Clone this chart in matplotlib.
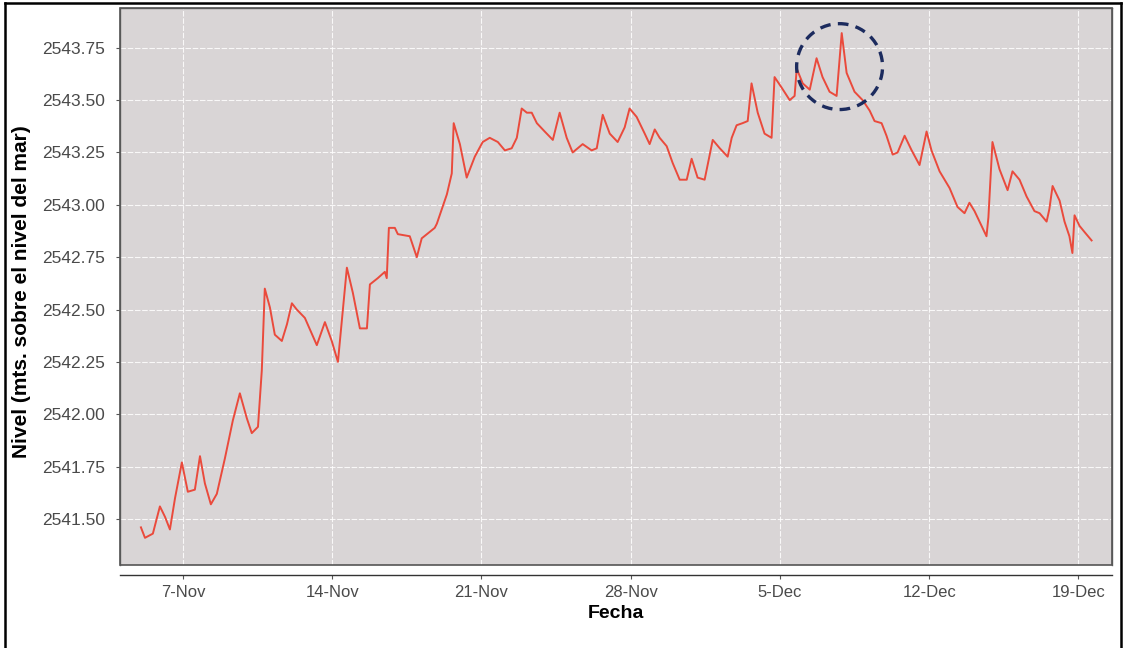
import matplotlib
matplotlib.use("Agg")
from matplotlib import pyplot as plt
import matplotlib.dates as mdates
from matplotlib.patches import Ellipse, Rectangle
from matplotlib.lines import Line2D
import numpy as np
import pandas as pd

# Día contado desde el 1 de noviembre (31 = 1-Dec)
dias = [
    5.03, 5.22, 5.59, 5.92, 6.16, 6.39, 6.63, 6.95, 7.23, 7.56,
    7.80, 8.03, 8.31, 8.59, 8.97, 9.34, 9.67, 10.00, 10.23, 10.52,
    10.70, 10.84, 11.08, 11.31, 11.64, 11.88, 12.11, 12.34, 12.72, 13.28,
    13.66, 13.98, 14.27, 14.69, 14.97, 15.30, 15.63, 15.77, 16.14, 16.47,
    16.56, 16.66, 16.94, 17.08, 17.64, 17.97, 18.20, 18.81, 18.91, 19.38,
    19.61, 19.70, 19.99, 20.31, 20.69, 21.06, 21.39, 21.77, 22.10, 22.42,
    22.66, 22.89, 23.13, 23.36, 23.60, 23.97, 24.35, 24.67, 25.00, 25.28,
    25.75, 26.17, 26.41, 26.69, 27.02, 27.39, 27.72, 27.95, 28.28, 28.66,
    28.89, 29.13, 29.36, 29.69, 29.97, 30.30, 30.63, 30.86, 31.14, 31.47,
    31.85, 32.18, 32.55, 32.74, 32.97, 33.25, 33.49, 33.67, 33.96, 34.28,
    34.61, 34.75, 35.08, 35.46, 35.69, 35.79, 36.07, 36.40, 36.72, 37.00,
    37.33, 37.66, 37.90, 38.13, 38.50, 38.88, 39.21, 39.44, 39.77, 40.00,
    40.29, 40.52, 40.85, 41.18, 41.55, 41.88, 42.11, 42.49, 42.96, 43.33,
    43.66, 43.89, 44.13, 44.46, 44.69, 44.78, 44.97, 45.30, 45.68, 45.91,
    46.24, 46.57, 46.94, 47.18, 47.51, 47.64, 47.79, 48.12, 48.35, 48.58,
    48.72, 48.82, 49.05, 49.29, 49.62,
]

# Nivel (m.s.n.m.)
nivel = [
    2541.46, 2541.41, 2541.43, 2541.56, 2541.51, 2541.45, 2541.60, 2541.77, 2541.63, 2541.64,
    2541.80, 2541.67, 2541.57, 2541.62, 2541.79, 2541.97, 2542.10, 2541.98, 2541.91, 2541.94,
    2542.21, 2542.60, 2542.51, 2542.38, 2542.35, 2542.43, 2542.53, 2542.50, 2542.46, 2542.33,
    2542.44, 2542.35, 2542.25, 2542.70, 2542.58, 2542.41, 2542.41, 2542.62, 2542.65, 2542.68,
    2542.65, 2542.89, 2542.89, 2542.86, 2542.85, 2542.75, 2542.84, 2542.89, 2542.91, 2543.05,
    2543.15, 2543.39, 2543.29, 2543.13, 2543.23, 2543.30, 2543.32, 2543.30, 2543.26, 2543.27,
    2543.32, 2543.46, 2543.44, 2543.44, 2543.39, 2543.35, 2543.31, 2543.44, 2543.32, 2543.25,
    2543.29, 2543.26, 2543.27, 2543.43, 2543.34, 2543.30, 2543.37, 2543.46, 2543.42, 2543.34,
    2543.29, 2543.36, 2543.32, 2543.28, 2543.20, 2543.12, 2543.12, 2543.22, 2543.13, 2543.12,
    2543.31, 2543.27, 2543.23, 2543.32, 2543.38, 2543.39, 2543.40, 2543.58, 2543.44, 2543.34,
    2543.32, 2543.61, 2543.56, 2543.50, 2543.52, 2543.65, 2543.58, 2543.55, 2543.70, 2543.61,
    2543.54, 2543.52, 2543.82, 2543.63, 2543.54, 2543.50, 2543.45, 2543.40, 2543.39, 2543.33,
    2543.24, 2543.25, 2543.33, 2543.26, 2543.19, 2543.35, 2543.26, 2543.16, 2543.08, 2542.99,
    2542.96, 2543.01, 2542.97, 2542.90, 2542.85, 2542.94, 2543.30, 2543.17, 2543.07, 2543.16,
    2543.12, 2543.04, 2542.97, 2542.96, 2542.92, 2542.98, 2543.09, 2543.02, 2542.92, 2542.85,
    2542.77, 2542.95, 2542.90, 2542.87, 2542.83,
]

etiquetas_x = ["7-Nov", "14-Nov", "21-Nov", "28-Nov", "5-Dec", "12-Dec", "19-Dec"]
dias_ticks = [7, 14, 21, 28, 35, 42, 49]
niveles_ticks = [2541.50, 2541.75, 2542.00, 2542.25, 2542.50, 2542.75, 2543.00, 2543.25, 2543.50, 2543.75]

plt.rcParams['font.family'] = ['Liberation Sans', 'DejaVu Sans']

base = pd.Timestamp("2010-10-31")
fechas = base + pd.to_timedelta(dias, unit="D")
fechas_ticks = base + pd.to_timedelta(dias_ticks, unit="D")

fig = plt.figure(figsize=(11.26, 6.48), dpi=100)
ax = fig.add_axes([0.1066, 0.128, 0.8814, 0.8597])
ax.set_facecolor('#d9d5d6')

# Rejilla blanca
ax.grid(True, color='white', linewidth=0.8, linestyle=(0, (5, 1.5)), alpha=0.85)
ax.set_axisbelow(True)

# Serie
ax.plot(fechas, nivel, color='#ea4a3c', linewidth=1.4, solid_joinstyle='round')

# Círculo discontinuo alrededor del máximo
i_max = int(np.argmax(nivel))
centro = (mdates.date2num(fechas[i_max]) - 0.1, nivel[i_max] - 0.16)
ax.add_patch(Ellipse(centro, width=4.03, height=0.41, fill=False,
                     edgecolor='#1c2b5e', linewidth=2.4, linestyle=(0, (3.2, 2.2)), zorder=5))

# Ejes
ax.set_xlim(base + pd.Timedelta(days=4.05), base + pd.Timedelta(days=50.6))
ax.set_ylim(2541.28, 2543.94)
ax.set_xticks(fechas_ticks)
ax.set_xticklabels(etiquetas_x)
ax.set_yticks(niveles_ticks)
ax.set_yticklabels([f"{v:.2f}" for v in niveles_ticks])
ax.tick_params(axis='both', colors='#555555', labelcolor='#4a4a4a', length=3, width=0.8)
ax.tick_params(axis='x', labelsize=12, pad=4)
ax.tick_params(axis='y', labelsize=12.5, pad=8)

for lado in ['top', 'right', 'left']:
    ax.spines[lado].set_color('#6a6a6a')
    ax.spines[lado].set_linewidth(1.0)
ax.spines['bottom'].set_position(('outward', 7))
ax.spines['bottom'].set_color('#333333')
ax.spines['bottom'].set_linewidth(1.0)
ax.add_patch(Rectangle((0, 0), 1, 1, transform=ax.transAxes, fill=False,
                       edgecolor='#555555', linewidth=1.2, clip_on=False, zorder=6))

ax.set_xlabel("Fecha", fontsize=14, fontweight='bold', labelpad=4)
ax.set_ylabel("Nivel (mts. sobre el nivel del mar)", fontsize=15, fontweight='bold')
ax.yaxis.set_label_coords(-0.0895, 0.49)

# Marco exterior
for xs, ys in [([0.004, 0.004], [0.0, 0.995]), ([0.004, 0.996], [0.995, 0.995]), ([0.996, 0.996], [0.0, 0.995])]:
    fig.add_artist(Line2D(xs, ys, transform=fig.transFigure, color='black', linewidth=1.8))

fig.savefig("out.png", dpi=100)
